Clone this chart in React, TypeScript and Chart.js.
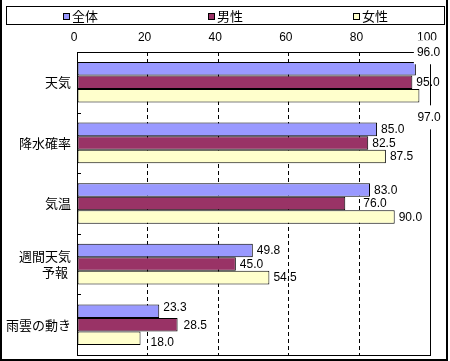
import React, { useEffect, useRef } from 'react';
import { Chart, registerables } from 'chart.js';

Chart.register(...registerables);

// ---- data ----
const categories: (string | string[])[] = ['天気', '降水確率', '気温', ['週間天気', '予報 '], '雨雲の動き'];
const seriesNames = ['全体', '男性', '女性'];
const overall = [96.0, 85.0, 83.0, 49.8, 23.3];
const male = [95.0, 82.5, 76.0, 45.0, 28.5];
const female = [97.0, 87.5, 90.0, 54.5, 18.0];
const xTickValues = [0, 20, 40, 60, 80, 100];

// ---- style ----
const colors = ['#9999FF', '#993366', '#FFFFCC'];
// label nudges (px) mimicking the original's label placement
const labelDx = [[-3, 0, 0, 0, 0], [0, 0, 14, 0, 2], [-6, 0, 0, 0, 6]];
const labelDy = [[-17, 0, 0, 0, -4], [0, 0, 0, 0, 0], [21, 0, 0, 0, 4]];

const NUM_FONT = '12px "Liberation Sans", Arial, sans-serif';
const CJK_FAMILY = '"Noto Sans CJK JP", "Noto Sans", sans-serif';

const framePlugin = {
  id: 'frame',
  afterDatasetsDraw(chart: any) {
    const { ctx, chartArea } = chart;
    const { left, top, right, bottom } = chartArea;
    ctx.save();
    const yScale = chart.scales.y;
    ctx.strokeStyle = '#000';
    ctx.lineWidth = 1;
    ctx.beginPath();
    for (let i = 0; i <= categories.length; i++) {
      const y = Math.round(yScale.getPixelForValue(i - 0.5)) + 0.5;
      ctx.moveTo(left, y);
      ctx.lineTo(left + 4, y);
    }
    ctx.stroke();
    ctx.strokeRect(left + 0.5, top + 0.5, right - left, bottom - top);
    ctx.font = NUM_FONT;
    ctx.textBaseline = 'middle';
    ctx.textAlign = 'left';
    chart.data.datasets.forEach((ds: any, d: number) => {
      const meta = chart.getDatasetMeta(d);
      meta.data.forEach((bar: any, i: number) => {
        const txt = Number(ds.data[i]).toFixed(1);
        const x = bar.x + 4 + labelDx[d][i];
        const y = bar.y + 0.5 + labelDy[d][i];
        if (Math.abs(labelDy[d][i]) >= 10) {
          const w = ctx.measureText(txt).width;
          ctx.fillStyle = '#fff';
          ctx.fillRect(x - 3, y - 12, w + 6, 24);
        }
        ctx.fillStyle = '#000';
        ctx.fillText(txt, x, y);
      });
    });
    ctx.restore();
  },
  afterDraw(chart: any) {
    const { ctx } = chart;
    ctx.save();
    ctx.fillStyle = '#000';
    ctx.fillRect(0, 0, 2, 361);
    ctx.fillRect(446, 0, 2, 361);
    ctx.fillRect(0, 359, 448, 2);
    ctx.strokeStyle = '#000';
    ctx.lineWidth = 1;
    ctx.strokeRect(6.5, 6.5, 438, 18);
    ctx.font = '13px ' + CJK_FAMILY;
    ctx.textBaseline = 'middle';
    ctx.textAlign = 'left';
    chart.data.datasets.forEach((ds: any, d: number) => {
      const x0 = 63 + d * 145;
      ctx.fillStyle = ds.backgroundColor;
      ctx.fillRect(x0 + 0.5, 13.5, 6, 6);
      ctx.strokeStyle = '#000';
      ctx.strokeRect(x0 + 0.5, 13.5, 6, 6);
      ctx.fillStyle = '#000';
      ctx.fillText(ds.label, x0 + 9, 16);
    });
    ctx.restore();
  },
};

export default function App() {
  const ref = useRef<HTMLCanvasElement>(null);
  useEffect(() => {
    if (!ref.current) return;
    const seriesData = [overall, male, female];
    const chart = new Chart(ref.current, {
      type: 'bar',
      data: {
        labels: categories,
        datasets: seriesNames.map((name, d) => ({
          label: name,
          data: seriesData[d],
          backgroundColor: colors[d],
          borderColor: '#000',
          borderWidth: 1,
          borderSkipped: false,
          categoryPercentage: 0.67,
          barPercentage: 1,
        })),
      },
      options: {
        indexAxis: 'y',
        responsive: false,
        animation: false,
        devicePixelRatio: 1,
        layout: { padding: { top: 26, right: 20, bottom: 6, left: 0 } },
        plugins: {
          legend: { display: false },
          tooltip: { enabled: false },
        },
        scales: {
          x: {
            type: 'linear',
            position: 'top',
            min: 0,
            max: 100,
            afterBuildTicks: (scale: any) => {
              scale.ticks = xTickValues.map((v) => ({ value: v }));
            },
            ticks: {
              color: '#000',
              font: { family: '"Liberation Sans", Arial, sans-serif', size: 12 },
              padding: 7,
              labelOffset: -3,
              maxRotation: 0,
            },
            grid: { color: '#000', lineWidth: 1, drawTicks: false },
            border: { display: false, dash: [4, 3] },
            afterFit: (scale: any) => {
              scale.height = 26;
              scale.paddingLeft = 0;
              scale.paddingRight = 0;
            },
          },
          y: {
            type: 'category',
            ticks: {
              color: '#000',
              font: { family: CJK_FAMILY, size: 13, lineHeight: 1.27 },
              padding: 6,
              autoSkip: false,
            },
            grid: { display: false, drawTicks: false },
            border: { display: false },
            afterFit: (scale: any) => {
              scale.width = 77;
              scale.paddingTop = 0;
              scale.paddingBottom = 0;
            },
          },
        },
      },
      plugins: [framePlugin],
    } as any);
    return () => chart.destroy();
  }, []);
  return (
    <div style={{ position: 'fixed', left: 0, top: 0, width: 450, height: 361, background: '#fff' }}>
      <canvas ref={ref} width={450} height={361} style={{ display: 'block' }} />
    </div>
  );
}
